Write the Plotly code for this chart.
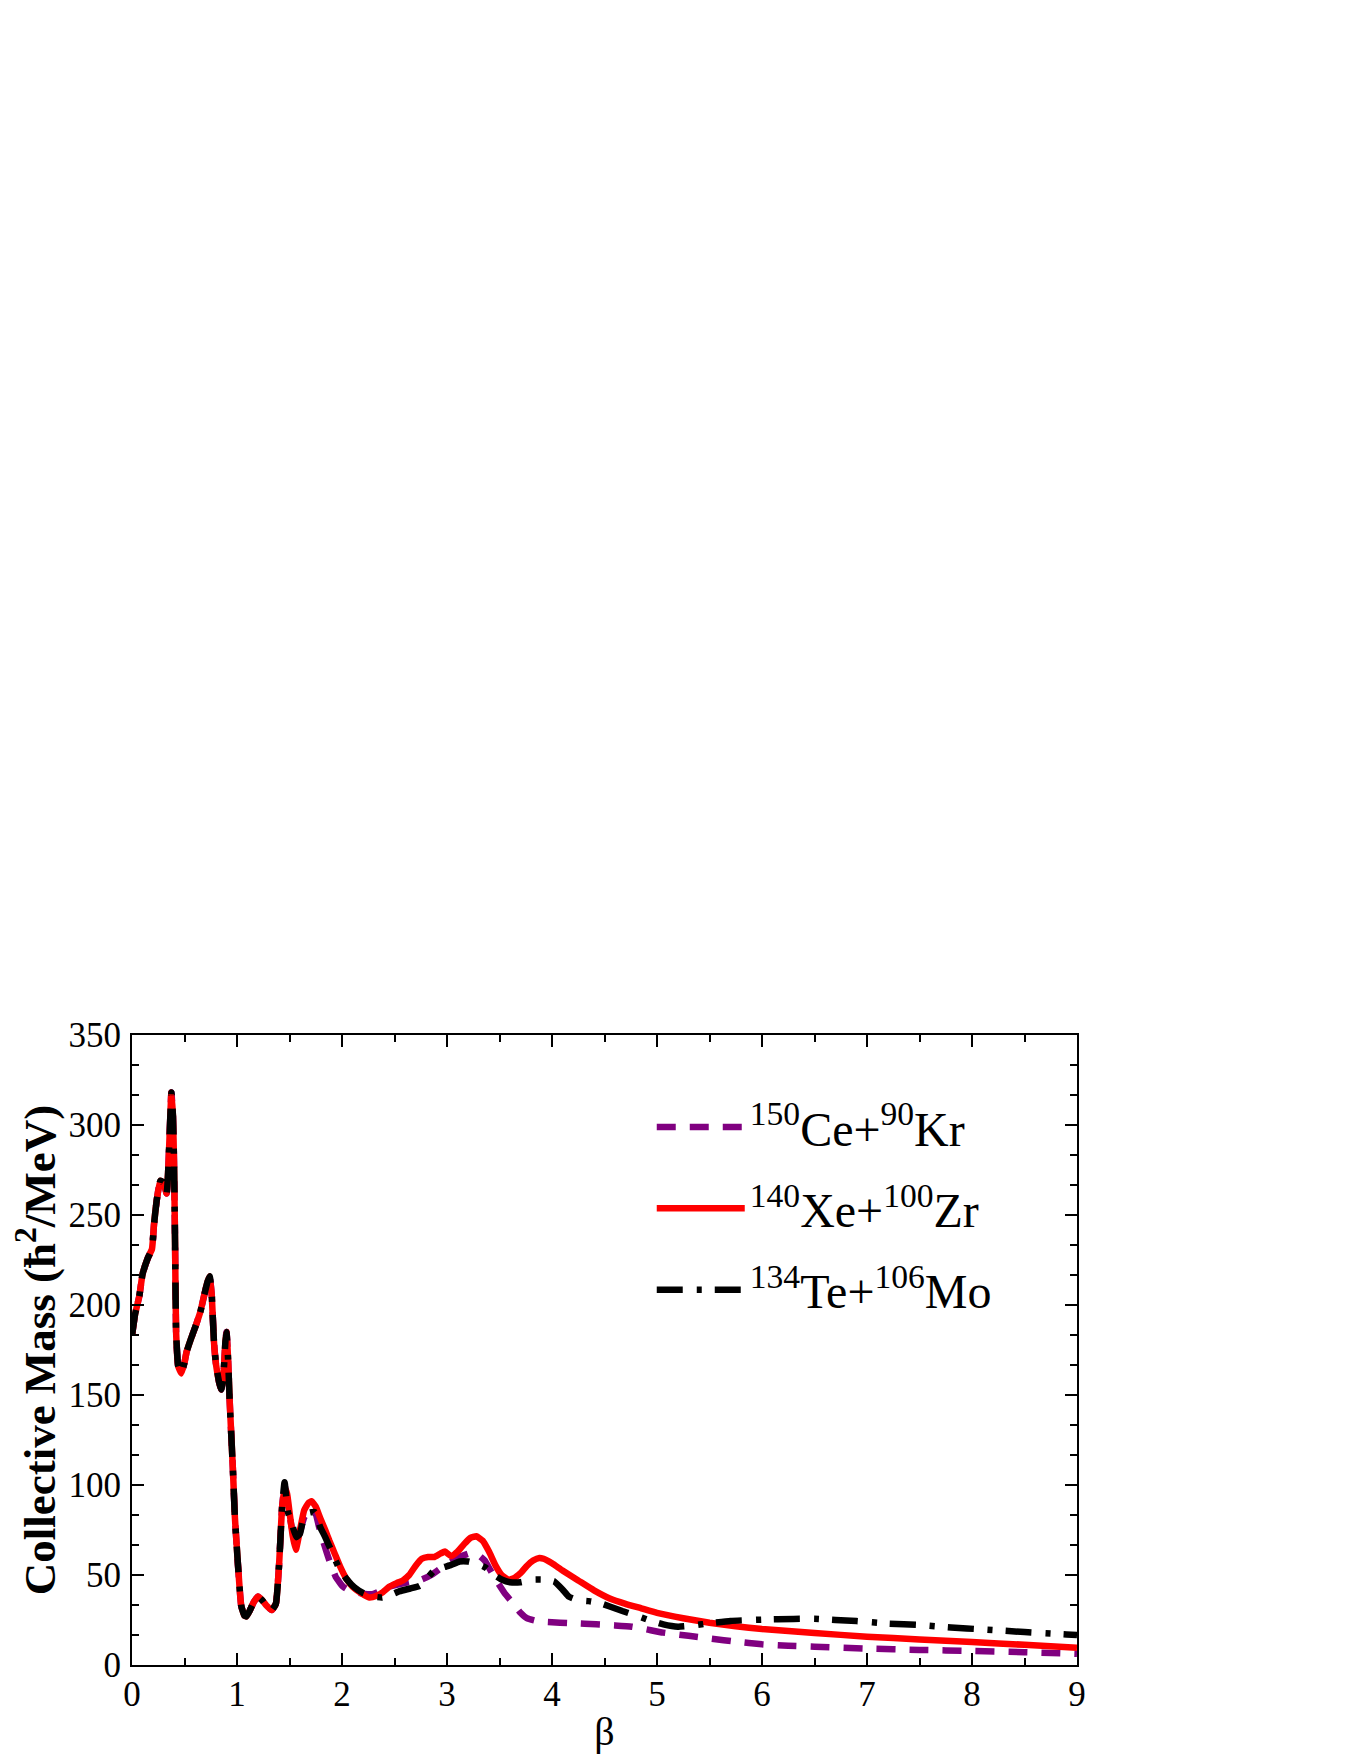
import plotly.graph_objects as go

# ---- data ----
# shared part of all three curves (they coincide up to beta ~ 1.44)
beta_common = [0.0, 0.03, 0.07, 0.10, 0.15, 0.19, 0.21, 0.24, 0.27, 0.30, 0.33, 0.345, 0.36, 0.375,
               0.39, 0.40, 0.41, 0.42, 0.44, 0.47, 0.50, 0.52, 0.56, 0.61, 0.65, 0.69, 0.72, 0.74,
               0.76, 0.78, 0.80, 0.83, 0.85, 0.87, 0.89, 0.90, 0.915, 0.93, 0.96, 0.98, 1.01, 1.04,
               1.07, 1.09, 1.12, 1.16, 1.20, 1.24, 1.28, 1.33, 1.37, 1.40, 1.43]
mass_common = [183, 195, 205, 217, 226, 231, 245, 260, 269, 268, 262, 275, 297, 318,
               305, 280, 235, 185, 166, 162, 168, 174, 181, 189, 196, 206, 213, 216,
               205, 180, 167, 157, 153, 160, 180, 185, 170, 147, 110, 82, 55, 33,
               27.5, 27, 30, 35, 38, 36, 33, 30.5, 34, 55, 88]

# 150Ce + 90Kr
beta_ce = [1.453, 1.485, 1.52, 1.56, 1.60, 1.64, 1.70, 1.75, 1.78, 1.83, 1.88, 1.94, 2.01, 2.08,
           2.14, 2.22, 2.30, 2.38, 2.45, 2.55, 2.66, 2.76, 2.85, 2.97, 3.06, 3.14, 3.23, 3.30,
           3.36, 3.41, 3.48, 3.55, 3.63, 3.70, 3.76, 3.85, 3.95, 4.2, 4.42, 4.6, 4.76, 4.9,
           5.06, 5.3, 5.52, 5.75, 6.0, 6.25, 6.5, 7.0, 7.5, 8.0, 8.5, 9.0]
mass_ce = [100, 88, 77, 68, 74, 82, 87, 84, 77, 67, 58, 49, 43.5, 41,
           40.4, 39.5, 39.5, 41.5, 43.5, 45, 46.3, 47.5, 50, 55, 58, 60.5, 62.3, 61,
           58, 53, 46, 39.8, 34.3, 29, 26, 24.5, 23.9, 23.2, 22.6, 22, 21.3, 19.8,
           18, 16.2, 14.6, 13, 11.5, 10.7, 10.2, 9.1, 8.4, 7.8, 7.1, 6.2]

# 140Xe + 100Zr
beta_xe = [1.45, 1.47, 1.50, 1.53, 1.56, 1.60, 1.64, 1.68, 1.71, 1.75, 1.79, 1.84, 1.88, 1.93,
           1.98, 2.04, 2.10, 2.18, 2.26, 2.33, 2.39, 2.45, 2.52, 2.58, 2.64, 2.70, 2.76, 2.82,
           2.88, 2.94, 2.98, 3.04, 3.10, 3.16, 3.22, 3.28, 3.34, 3.40, 3.46, 3.52, 3.58, 3.63,
           3.70, 3.76, 3.82, 3.88, 3.92, 4.00, 4.10, 4.25, 4.40, 4.55, 4.70, 4.85, 5.0, 5.25,
           5.5, 5.75, 6.0, 6.5, 7.0, 7.5, 8.0, 8.5, 9.0]
mass_xe = [96, 97, 85, 72, 64, 75, 86, 90, 91, 88, 82, 75, 69, 62,
           55, 48, 43.5, 40, 37.5, 38.5, 40.5, 43.5, 45.5, 47, 50, 55, 59, 60,
           60, 62, 63, 60.5, 63, 67, 70.5, 71.5, 69, 63, 55.5, 50, 47.5, 48,
           51, 55, 58, 59.5, 59, 56.5, 52.5, 47, 41.5, 37, 34, 31.5, 29, 26,
           23.5, 21.5, 20, 17.8, 15.7, 14.2, 12.8, 11.2, 9.6]

# 134Te + 106Mo
beta_te = [1.453, 1.485, 1.52, 1.565, 1.60, 1.63, 1.68, 1.74, 1.79, 1.84, 1.91, 1.97, 2.04, 2.12,
           2.20, 2.30, 2.38, 2.45, 2.55, 2.65, 2.74, 2.80, 2.87, 2.95, 3.04, 3.12, 3.20, 3.30,
           3.37, 3.45, 3.52, 3.60, 3.70, 3.82, 3.92, 4.02, 4.10, 4.16, 4.25, 4.35, 4.45, 4.55,
           4.67, 4.80, 4.92, 5.06, 5.20, 5.35, 5.50, 5.70, 6.0, 6.3, 6.5, 6.7, 6.9, 7.2,
           7.5, 7.8, 8.1, 8.5, 8.9, 9.0]
mass_te = [101.5, 85, 79, 71, 73, 80.5, 84.5, 85, 77, 71, 62, 54, 48, 43,
           40, 38, 37.5, 38.5, 41, 42.5, 44, 47.5, 52, 54, 55.6, 57.5, 57.5, 56,
           54, 50, 47.5, 46, 46, 47.5, 47.5, 46.5, 42, 38, 36, 35.5, 34.5, 32.5,
           30, 27.5, 25, 22.6, 21.3, 22, 23.2, 24.5, 25.2, 25.6, 25.7, 25, 24.4, 23,
           22.2, 20.8, 19.8, 18.3, 17, 16.7]

names = ["<sup>150</sup>Ce+<sup>90</sup>Kr",
         "<sup>140</sup>Xe+<sup>100</sup>Zr",
         "<sup>134</sup>Te+<sup>106</sup>Mo"]

FONT = "Liberation Serif"

fig = go.Figure()
fig.add_trace(go.Scatter(x=beta_common + beta_ce, y=mass_common + mass_ce, mode="lines",
                         name=names[0], legendgroup="g1",
                         line=dict(color="#800080", width=6.5, dash="19px,14px",
                                   shape="spline", smoothing=0.4)))
fig.add_trace(go.Scatter(x=beta_common + beta_xe, y=mass_common + mass_xe, mode="lines",
                         name=names[1], legendgroup="g2",
                         line=dict(color="#FF0000", width=6.5,
                                   shape="spline", smoothing=0.4)))
fig.add_trace(go.Scatter(x=beta_common + beta_te, y=mass_common + mass_te, mode="lines",
                         name=names[2], legendgroup="g3",
                         line=dict(color="#000000", width=6.5,
                                   dash="26px,14px,5px,13px",
                                   shape="spline", smoothing=0.4)))

axis_common = dict(
    showline=True, linewidth=2, linecolor="black", mirror="ticks",
    ticks="inside", ticklen=12, tickwidth=2, tickcolor="black",
    showgrid=False, zeroline=False, automargin=False,
    tickfont=dict(family=FONT, size=35, color="black"),
)

fig.update_xaxes(range=[0, 9], tick0=0, dtick=1,
                 minor=dict(dtick=0.5, ticks="inside", ticklen=7, tickwidth=2,
                            tickcolor="black", showgrid=False),
                 ticklabelstandoff=-3,
                 title=dict(text="β", font=dict(family=FONT, size=40, color="black"), standoff=4),
                 **axis_common)
fig.update_yaxes(range=[0, 350], tick0=0, dtick=50,
                 minor=dict(dtick=50 / 3, ticks="inside", ticklen=7, tickwidth=2,
                            tickcolor="black", showgrid=False),
                 ticklabelstandoff=2,
                 title=dict(text="<b>Collective Mass (ħ<sup>2</sup>/MeV)</b>",
                            font=dict(family=FONT, size=45, color="black"), standoff=22),
                 **axis_common)

fig.update_layout(
    width=1360, height=1760, autosize=False,
    margin=dict(l=124, r=291, t=1027, b=103),
    paper_bgcolor="white", plot_bgcolor="white",
    font=dict(family=FONT, color="black"),
    showlegend=True,
    legend=dict(x=0.55, y=0.914, xanchor="left", yanchor="top",
                bgcolor="rgba(0,0,0,0)", borderwidth=0,
                font=dict(family=FONT, size=48, color="black"),
                itemwidth=88, tracegroupgap=16),
)

fig.write_html("out.html")
